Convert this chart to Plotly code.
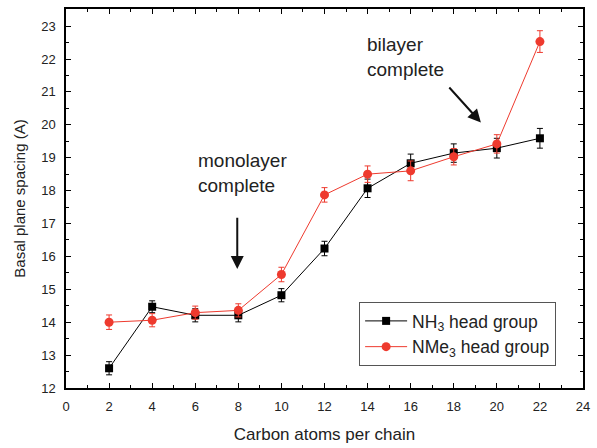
import plotly.graph_objects as go

carbons = [2, 4, 6, 8, 10, 12, 14, 16, 18, 20, 22]
nh3_spacing = [12.60, 14.47, 14.21, 14.21, 14.82, 16.24, 18.07, 18.83, 19.14, 19.29, 19.59]
nh3_err = [0.20, 0.18, 0.20, 0.20, 0.20, 0.22, 0.28, 0.28, 0.28, 0.30, 0.30]
nme3_spacing = [14.00, 14.06, 14.29, 14.36, 15.45, 17.87, 18.50, 18.60, 19.03, 19.42, 22.53]
nme3_err = [0.22, 0.20, 0.20, 0.20, 0.22, 0.22, 0.25, 0.30, 0.25, 0.28, 0.33]

series_names = ["NH<sub>3</sub> head group", "NMe<sub>3</sub> head group"]
x_title = "Carbon atoms per chain"
y_title = "Basal plane spacing (A)"

FONT = "Liberation Sans, Arial, sans-serif"
RED = "#ee3a2e"

fig = go.Figure()
fig.add_trace(go.Scatter(
    x=carbons, y=nh3_spacing, name=series_names[0], mode="lines+markers",
    line=dict(color="black", width=1),
    marker=dict(symbol="square", size=8, color="black"),
    error_y=dict(type="data", array=nh3_err, color="black", thickness=1, width=3),
))
fig.add_trace(go.Scatter(
    x=carbons, y=nme3_spacing, name=series_names[1], mode="lines+markers",
    line=dict(color=RED, width=1),
    marker=dict(symbol="circle", size=9, color=RED),
    error_y=dict(type="data", array=nme3_err, color=RED, thickness=1, width=3),
))

axis_common = dict(
    showline=True, linecolor="black", linewidth=1.5, mirror="ticks",
    ticks="inside", ticklen=5, tickwidth=1, tickcolor="black",
    showgrid=False, zeroline=False,
    tickfont=dict(family=FONT, size=13, color="#222"),
)
fig.update_xaxes(
    range=[0, 24], dtick=2, tick0=0,
    minor=dict(dtick=1, ticks="inside", ticklen=3, tickcolor="black", showgrid=False),
    title=dict(text=x_title, font=dict(family=FONT, size=17, color="#222"), standoff=15),
    ticklabelstandoff=6,
    **axis_common,
)
fig.update_yaxes(
    range=[12, 23.52], dtick=1, tick0=12,
    minor=dict(dtick=0.5, ticks="inside", ticklen=3, tickcolor="black", showgrid=False),
    title=dict(text=y_title, font=dict(family=FONT, size=15, color="#222"), standoff=12),
    ticklabelstandoff=6,
    **axis_common,
)

annot_font = dict(family=FONT, size=19, color="#222")
fig.add_annotation(x=6.05, y=18.55, xref="x", yref="y", text="monolayer<br>complete",
                   showarrow=False, xanchor="left", yanchor="middle", align="left", font=annot_font)
fig.add_annotation(x=7.95, y=15.62, ax=7.95, ay=17.22, xref="x", yref="y", axref="x", ayref="y",
                   text="", showarrow=True, arrowhead=2, arrowsize=1.3, arrowwidth=2, arrowcolor="#111")
fig.add_annotation(x=13.9, y=22.07, xref="x", yref="y", text="bilayer<br>complete",
                   showarrow=False, xanchor="left", yanchor="middle", align="left", font=annot_font)
fig.add_annotation(x=19.26, y=20.07, ax=17.73, ay=21.18, xref="x", yref="y", axref="x", ayref="y",
                   text="", showarrow=True, arrowhead=2, arrowsize=1.3, arrowwidth=2, arrowcolor="#111")

fig.update_layout(
    width=597, height=448,
    margin=dict(l=66, r=13, t=7, b=59),
    plot_bgcolor="white", paper_bgcolor="white",
    showlegend=True,
    legend=dict(x=0.948, y=0.058, xanchor="right", yanchor="bottom",
                bordercolor="#555", borderwidth=1, bgcolor="white",
                font=dict(family=FONT, size=17.5, color="#222"),
                itemwidth=42),
)

fig.write_html("out.html")
